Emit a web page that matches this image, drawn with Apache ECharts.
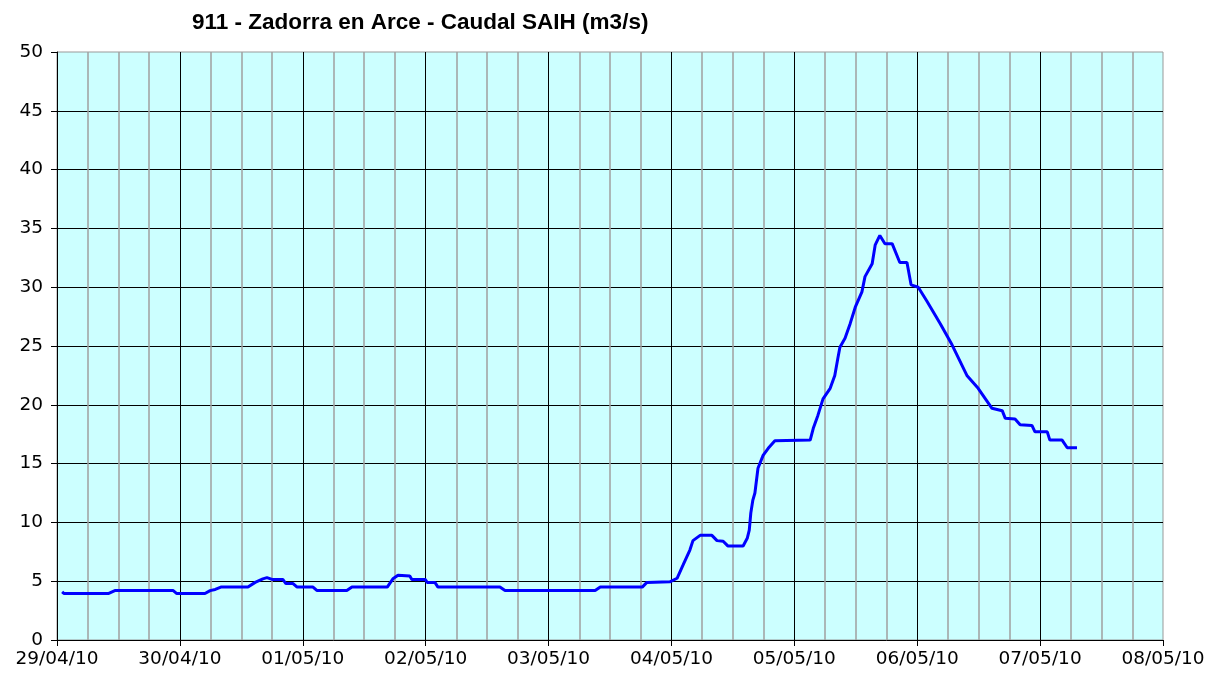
<!DOCTYPE html>
<html>
<head>
<meta charset="utf-8">
<script src="https://cdn.jsdelivr.net/npm/echarts@6/dist/echarts.min.js"></script>
<style>
html,body{margin:0;padding:0;background:#fff;}
#chart{width:1221px;height:680px;}
</style>
</head>
<body>
<div id="chart"></div>
<script>
// Tick labels (one per day, at every 24 hours)
var dayLabels = ['29/04/10','30/04/10','01/05/10','02/05/10','03/05/10','04/05/10','05/05/10','06/05/10','07/05/10','08/05/10'];
// Hours since 29/04/10 00:00
var hours = [1.0,1.4,10.0,11.3,22.7,23.4,28.9,29.9,30.9,32.0,37.3,38.7,40.2,41.0,42.0,44.1,44.7,46.1,46.9,50.0,
  50.8,56.6,57.6,64.5,65.6,66.6,68.9,69.3,71.9,72.3,73.8,74.4,86.5,87.5,105.1,106.1,114.3,115.2,119.7,121.1,
  122.3,123.6,124.2,125.6,127.9,128.9,130.1,131.0,134.0,134.8,135.2,135.5,135.9,136.3,136.9,137.9,138.9,140.2,147.1,147.7,
  148.6,149.6,151.0,151.9,152.5,152.9,153.9,154.9,155.9,157.2,157.8,159.2,159.8,160.7,161.7,163.1,164.6,166.0,166.8,168.2,
  169.9,172.5,174.8,177.7,179.9,182.6,184.6,185.2,187.1,188.1,190.4,191.0,193.4,193.9,196.3,197.3,199.2];
// Caudal (m3/s)
var flow = [4.1,3.95,3.95,4.2,4.2,3.95,3.95,4.2,4.3,4.5,4.5,4.9,5.2,5.3,5.15,5.15,4.8,4.8,4.5,4.5,
  4.2,4.2,4.5,4.5,5.2,5.5,5.45,5.15,5.15,4.9,4.9,4.5,4.5,4.2,4.2,4.5,4.5,4.9,4.95,5.25,
  6.4,7.65,8.45,8.9,8.9,8.45,8.4,8.0,8.0,8.65,9.35,10.8,11.9,12.5,14.6,15.7,16.3,16.95,17.0,18.0,
  19.1,20.5,21.4,22.5,23.95,24.9,25.65,26.9,28.3,29.6,30.9,32.0,33.6,34.4,33.7,33.7,32.1,32.1,30.2,30.0,
  28.8,26.9,25.1,22.5,21.4,19.7,19.5,18.85,18.8,18.3,18.25,17.7,17.7,17.0,17.0,16.35,16.35];

var seriesData = hours.map(function(h, i){ return [h, flow[i]]; });

var chart = echarts.init(document.getElementById('chart'), null, {renderer:'canvas'});
var labelFont = {color:'#000', fontFamily:'DejaVu Sans', fontSize:18.5};
chart.setOption({
  animation:false,
  backgroundColor:'#ffffff',
  title:{
    text:'911 - Zadorra en Arce - Caudal SAIH (m3/s)',
    left:187, top:6,
    textStyle:{fontFamily:'Liberation Sans', fontWeight:'bold', fontSize:22.5, color:'#000'}
  },
  grid:{
    left:57, right:58, top:52, bottom:40,
    show:true, backgroundColor:'#ccffff', borderColor:'#999999', borderWidth:1,
    outerBoundsMode:'none'
  },
  xAxis:{
    type:'value', min:0, max:216, interval:24,
    axisLine:{show:true, onZero:false, lineStyle:{color:'#000', width:1}},
    axisTick:{show:true, length:6, lineStyle:{color:'#000'}},
    axisLabel:Object.assign({margin:10, formatter:function(v){ return dayLabels[Math.round(v/24)]; }}, labelFont),
    splitLine:{show:true, showMinLine:false, showMaxLine:false, lineStyle:{color:'#000', width:1}},
    minorTick:{show:false, splitNumber:4},
    minorSplitLine:{show:true, lineStyle:{color:'#a0a0a0', width:1.5}}
  },
  yAxis:{
    type:'value', min:0, max:50, interval:5,
    axisLine:{show:true, lineStyle:{color:'#000', width:1}},
    axisTick:{show:true, length:6, lineStyle:{color:'#000'}},
    axisLabel:Object.assign({margin:14}, labelFont),
    splitLine:{show:true, showMinLine:false, showMaxLine:false, lineStyle:{color:'#000', width:1}}
  },
  series:[{
    type:'line', data:seriesData, showSymbol:false, symbol:'none',
    lineStyle:{color:'#0000ff', width:3}, z:5
  }]
});
</script>
</body>
</html>
